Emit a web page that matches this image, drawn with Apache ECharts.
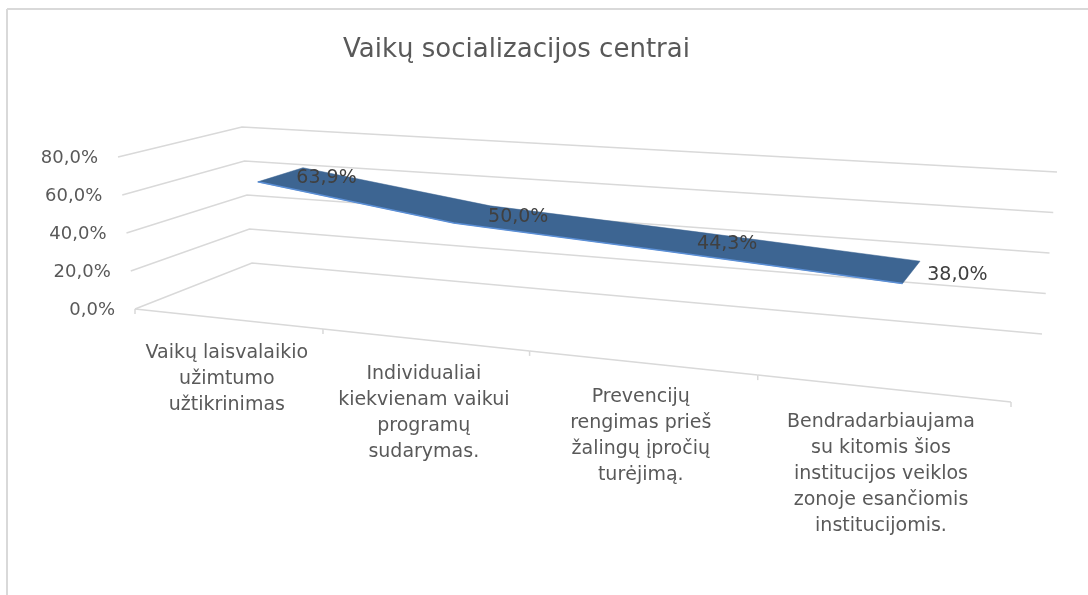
<!DOCTYPE html>
<html lang="lt">
<head>
    <meta charset="UTF-8">
    <title>Vaikų socializacijos centrai</title>
    <script src="https://cdn.jsdelivr.net/npm/echarts@6/dist/echarts.min.js"></script>
    <style>
        html, body { margin: 0; padding: 0; background: #fff; }
        .demo { width: 1088px; height: 595px; }
    </style>
</head>
<body>
    <div class="demo"></div>
    <script>
        // duomenys
        var categories = [
            'Vaikų laisvalaikio\nužimtumo\nužtikrinimas',
            'Individualiai\nkiekvienam vaikui\nprogramų\nsudarymas.',
            'Prevencijų\nrengimas prieš\nžalingų įpročių\nturėjimą.',
            'Bendradarbiaujama\nsu kitomis šios\ninstitucijos veiklos\nzonoje esančiomis\ninstitucijomis.'
        ]
        var values = [63.9, 50.0, 44.3, 38.0]
        var yTicks = [0, 20, 40, 60, 80]

        var FONT = 'DejaVu Sans'
        var GRID = '#d9d9d9'

        // 3D dėžės kampai (ekrane)
        var FLB = [135, 309], FLT = [118, 157], FRB = [1011, 402], FRT = [1027, 221]
        var BLB = [252, 263], BLT = [242, 127], BRB = [1042, 334], BRT = [1057, 172]
        var zF = 0.37, zB = 0.77

        function lerp(a, b, t) { return [a[0] + (b[0] - a[0]) * t, a[1] + (b[1] - a[1]) * t] }
        function warp(u) { return u / (u + 1.22 * (1 - u)) }

        // x,y per asis -> 3D projekcija
        function proj(params, api, x, y, z) {
            var cs = params.coordSys
            var pt = api.coord([x, y])
            var u = warp((pt[0] - cs.x) / cs.width)
            var v = (cs.y + cs.height - pt[1]) / cs.height
            var front = lerp(lerp(FLB, FRB, u), lerp(FLT, FRT, u), v)
            var back = lerp(lerp(BLB, BRB, u), lerp(BLT, BRT, u), v)
            return lerp(front, back, z)
        }
        function pct(v) { return v.toFixed(1).replace('.', ',') + '%' }

        var div = echarts.init(document.querySelector('.demo'))
        var n = categories.length

        var option = {
            animation: false,
            title: {
                text: 'Vaikų socializacijos centrai',
                left: 338,
                top: 32,
                textStyle: { fontFamily: FONT, fontSize: 26, fontWeight: 'normal', color: '#595959' }
            },
            graphic: [
                { type: 'line', shape: { x1: 7, y1: 9, x2: 1088, y2: 9 }, style: { stroke: GRID, lineWidth: 2 } },
                { type: 'line', shape: { x1: 7, y1: 9, x2: 7, y2: 595 }, style: { stroke: GRID, lineWidth: 2 } }
            ],
            grid: { left: 0, right: 0, top: 0, bottom: 0 },
            xAxis: { type: 'value', min: -0.5, max: n - 0.5, show: false },
            yAxis: { type: 'value', min: 0, max: 80, show: false },
            series: [
                {
                    // tinklelis ir y ašies žymos
                    type: 'custom',
                    z: 1,
                    data: yTicks,
                    renderItem: function (params, api) {
                        var val = api.value(0)
                        var a = proj(params, api, -0.5, val, 0)
                        var b = proj(params, api, -0.5, val, 1)
                        var c = proj(params, api, n - 0.5, val, 1)
                        return {
                            type: 'group',
                            children: [
                                { type: 'polyline', shape: { points: [a, b, c] }, style: { stroke: GRID, lineWidth: 1.5, fill: null } },
                                { type: 'text', style: { x: a[0] - 20, y: a[1] + 1, text: pct(val), align: 'right', verticalAlign: 'middle', fill: '#595959', fontFamily: FONT, fontSize: 18 } }
                            ]
                        }
                    }
                },
                {
                    // kategorijų ašis
                    type: 'custom',
                    z: 2,
                    data: categories.map(function (c, i) { return i }),
                    renderItem: function (params, api) {
                        var i = api.value(0)
                        var l = proj(params, api, i - 0.5, 0, 0)
                        var r = proj(params, api, i + 0.5, 0, 0)
                        var m = proj(params, api, i, 0, 0)
                        var kids = [
                            { type: 'line', shape: { x1: l[0], y1: l[1], x2: r[0], y2: r[1] }, style: { stroke: GRID, lineWidth: 1.5 } },
                            { type: 'line', shape: { x1: l[0], y1: l[1], x2: l[0], y2: l[1] + 5 }, style: { stroke: GRID, lineWidth: 1.5 } },
                            { type: 'text', style: { x: m[0], y: m[1] + 21, text: categories[i], align: 'center', verticalAlign: 'top', lineHeight: 26, fill: '#595959', fontFamily: FONT, fontSize: 19 } }
                        ]
                        if (i === n - 1) {
                            kids.push({ type: 'line', shape: { x1: r[0], y1: r[1], x2: r[0], y2: r[1] + 5 }, style: { stroke: GRID, lineWidth: 1.5 } })
                        }
                        return { type: 'group', children: kids }
                    }
                },
                {
                    // 3D linija
                    type: 'custom',
                    z: 3,
                    data: values.map(function (v, i) { return [i, v] }),
                    renderItem: function (params, api) {
                        var i = api.value(0)
                        var val = api.value(1)
                        var kids = []
                        if (params.dataIndex === 0) {
                            var front = [], back = []
                            for (var j = 0; j < n; j++) {
                                front.push(proj(params, api, j, values[j], zF))
                                back.push(proj(params, api, j, values[j], zB))
                            }
                            kids.push({ type: 'polygon', shape: { points: front.concat(back.slice().reverse()) }, style: { fill: '#3d6592', stroke: '#3d6592', lineWidth: 0.5 } })
                            kids.push({ type: 'polyline', shape: { points: front }, style: { stroke: '#5b8fd6', lineWidth: 1.5, fill: null } })
                        }
                        var c = proj(params, api, i, val, (zF + zB) / 2)
                        kids.push({ type: 'text', z2: 10, style: { x: c[0] + 16, y: c[1] + 3, text: pct(val), align: 'left', verticalAlign: 'middle', fill: '#404040', fontFamily: FONT, fontSize: 19 } })
                        return { type: 'group', children: kids }
                    }
                }
            ]
        }

        div.setOption(option)
    </script>
</body>
</html>
